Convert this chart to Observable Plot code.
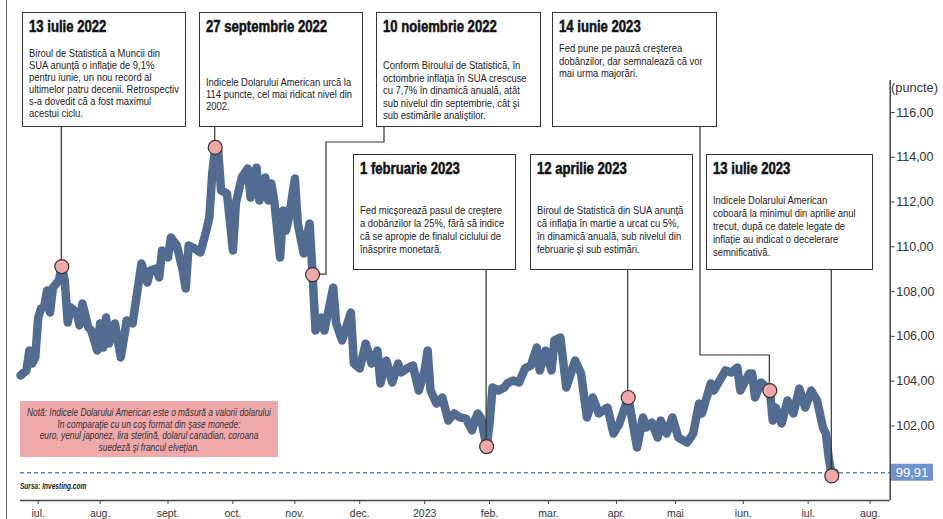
<!DOCTYPE html>
<html>
<head>
<meta charset="utf-8">
<script src="https://cdn.jsdelivr.net/npm/d3@7"></script>
<script src="https://cdn.jsdelivr.net/npm/@observablehq/plot@0.6"></script>
<style>
  body { margin: 0; background: #fff; }
  #wrap { position: relative; width: 943px; height: 519px; overflow: hidden;
          font-family: "Liberation Sans", Arial, sans-serif; }
  #wrap > svg { position: absolute; left: 0; top: 0; }
  .border { position: absolute; left: 6px; top: 0; height: 519px; border-left: 1.5px solid #666; }
  .box { position: absolute; background: #fff; border: 1.3px solid #333; box-sizing: border-box; }
  .box .t { position: absolute; left: 6px; font-weight: bold; font-size: 16px; line-height: 16px;
            color: #111; white-space: nowrap; -webkit-text-stroke: 0.5px #111;
            transform: scaleX(0.82); transform-origin: 0 0; }
  .box .b { position: absolute; left: 6px; font-size: 11.5px; color: #222; white-space: nowrap;
            transform: scaleX(0.82); transform-origin: 0 0; }
  .note { position: absolute; left: 20px; top: 401px; width: 258px; height: 56px; background: #f0a9ab; }
  .note .in { position: absolute; left: 50%; width: 330px; margin-left: -165px; top: 6px;
              text-align: center; font-style: italic; font-size: 10.2px; line-height: 11.5px; color: #333;
              transform: scaleX(0.82); transform-origin: 50% 0; white-space: nowrap; }
  .src { position: absolute; left: 20px; top: 482px; font-size: 8.2px; font-weight: bold; font-style: italic;
         color: #222; transform: scaleX(0.8); transform-origin: 0 0; white-space: nowrap; }
  .unit { position: absolute; left: 891px; top: 80px; font-size: 12.8px; color: #333; }
</style>
</head>
<body>
<div id="wrap"></div>
<script>
// ---------- data ----------
const dates = [
  "2022-06-23","2022-06-27","2022-06-28","2022-06-29","2022-06-30",
  "2022-07-01","2022-07-04","2022-07-05","2022-07-06","2022-07-07","2022-07-08","2022-07-12","2022-07-13",
  "2022-07-14","2022-07-15","2022-07-18","2022-07-20","2022-07-21","2022-07-22","2022-07-26","2022-07-27","2022-07-29",
  "2022-08-01","2022-08-02","2022-08-03","2022-08-04","2022-08-08","2022-08-10","2022-08-12","2022-08-16",
  "2022-08-19","2022-08-23","2022-08-24","2022-08-26","2022-08-29","2022-08-30",
  "2022-09-01","2022-09-02","2022-09-06","2022-09-08","2022-09-09","2022-09-12","2022-09-14","2022-09-16",
  "2022-09-20","2022-09-21","2022-09-22","2022-09-23","2022-09-26","2022-09-27","2022-09-29",
  "2022-10-03","2022-10-04","2022-10-06","2022-10-10","2022-10-11","2022-10-13","2022-10-14","2022-10-18",
  "2022-10-19","2022-10-20","2022-10-21","2022-10-25","2022-10-26","2022-10-27","2022-10-28",
  "2022-11-01","2022-11-02","2022-11-04","2022-11-08","2022-11-09","2022-11-10","2022-11-14","2022-11-15",
  "2022-11-18","2022-11-21","2022-11-23","2022-11-28","2022-11-29",
  "2022-12-01","2022-12-05","2022-12-07","2022-12-09","2022-12-12","2022-12-14","2022-12-16","2022-12-20",
  "2022-12-21","2022-12-23","2022-12-27","2022-12-29",
  "2023-01-02","2023-01-03","2023-01-04","2023-01-06","2023-01-10","2023-01-12","2023-01-16","2023-01-18",
  "2023-01-20","2023-01-24","2023-01-25","2023-01-26","2023-01-27","2023-01-31",
  "2023-02-01","2023-02-02","2023-02-06","2023-02-08","2023-02-09","2023-02-13","2023-02-15","2023-02-17",
  "2023-02-21","2023-02-23","2023-02-24","2023-02-28",
  "2023-03-02","2023-03-03","2023-03-07","2023-03-09","2023-03-14","2023-03-16","2023-03-20","2023-03-22",
  "2023-03-24","2023-03-29","2023-03-31",
  "2023-04-04","2023-04-07","2023-04-12","2023-04-14","2023-04-17","2023-04-19","2023-04-21","2023-04-24",
  "2023-04-26","2023-04-28",
  "2023-05-02","2023-05-05","2023-05-09","2023-05-11","2023-05-12","2023-05-17","2023-05-18","2023-05-24",
  "2023-05-26","2023-05-30","2023-05-31",
  "2023-06-05","2023-06-06","2023-06-07","2023-06-09","2023-06-14","2023-06-15","2023-06-16","2023-06-20",
  "2023-06-22","2023-06-26","2023-06-28","2023-06-30",
  "2023-07-04","2023-07-06","2023-07-10","2023-07-11","2023-07-12","2023-07-13","2023-07-14"
];
const values = [
  104.25,104.48,105.37,104.79,105.06,
  106.84,107.25,107.29,108.05,107.07,108.18,108.50,109.12,
  108.50,106.62,107.29,107.07,106.49,107.47,106.40,106.26,105.37,
  106.58,105.50,106.84,105.68,106.58,105.06,106.71,106.58,
  109.26,108.41,108.94,109.03,108.63,109.84,
  109.52,110.42,110.06,108.94,108.14,110.06,109.93,109.75,
  110.73,111.31,113.28,114.44,114.30,112.52,112.38,
  109.84,111.94,113.10,113.50,112.20,113.54,112.07,113.10,
  112.07,112.83,112.07,109.52,111.62,110.73,111.31,
  113.05,111.04,109.70,111.04,108.76,106.26,106.84,106.26,
  108.18,106.58,105.82,107.07,104.79,
  104.57,105.68,104.79,105.37,103.90,104.92,103.94,104.79,
  104.39,104.57,104.70,103.58,
  104.48,105.37,103.58,103.00,103.27,102.24,102.56,102.38,
  102.33,101.80,102.24,102.56,102.38,101.08,
  102.11,103.72,103.58,103.72,103.90,104.03,103.94,104.57,
  104.70,105.50,104.48,105.37,
  104.48,105.82,105.95,103.72,104.92,104.34,102.38,103.27,
  102.56,102.82,101.66,
  102.11,103.27,101.04,102.38,101.93,102.15,101.48,102.24,
  101.66,102.38,
  101.48,101.26,101.66,103.00,102.56,103.90,103.58,104.48,
  104.39,104.61,103.58,
  104.34,104.34,103.27,103.94,103.58,102.24,102.82,102.11,
  103.14,102.56,103.67,102.82,
  103.58,103.14,101.93,101.66,100.55,99.77,99.91
];

const eventDates  = ["2022-07-13","2022-09-23","2022-11-09","2023-06-14","2023-01-31","2023-04-07","2023-07-13"];
const eventTitles = ["13 iulie 2022","27 septembrie 2022","10 noiembrie 2022","14 iunie 2023",
                     "1 februarie 2023","12 aprilie 2023","13 iulie 2023"];
const eventTexts = [
  ["Biroul de Statistică a Muncii din","SUA anunță o inflație de 9,1%","pentru iunie, un nou record al",
   "ultimelor patru decenii. Retrospectiv","s-a dovedit că a fost maximul","acestui ciclu."],
  ["Indicele Dolarului American urcă la","114 puncte, cel mai ridicat nivel din","2002."],
  ["Conform Biroului de Statistică, în","octombrie inflația în SUA crescuse","cu 7,7% în dinamică anuală, atât",
   "sub nivelul din septembrie, cât şi","sub estimările analiştilor."],
  ["Fed pune pe pauză creşterea","dobânzilor, dar semnalează că vor","mai urma majorări."],
  ["Fed micşorează pasul de creştere","a dobânzilor la 25%, fără să indice","că se apropie de finalul ciclului de",
   "înăsprire monetară."],
  ["Biroul de Statistică din SUA anunță","că inflația în martie a urcat cu 5%,","în dinamică anuală, sub nivelul din",
   "februarie şi sub estimări."],
  ["Indicele Dolarului American","coboară la minimul din aprilie anul","trecut, după ce datele legate de",
   "inflație au indicat o decelerare","semnificativă."]
];

const xTickDates  = ["2022-07-01","2022-08-01","2022-09-01","2022-10-01","2022-11-01","2022-12-01","2023-01-01",
                     "2023-02-01","2023-03-01","2023-04-01","2023-05-01","2023-06-01","2023-07-01","2023-08-01"];
const xTickLabels = ["iul.","aug.","sept.","oct.","nov.","dec.","2023","feb.","mar.","apr.","mai","iun.","iul.","aug."];
const yTicks = [102,104,106,108,110,112,114,116];
const unitLabel = "(puncte)";
const noteLines = ["Notă: Indicele Dolarului American este o măsură a valorii dolarului",
                   "în comparaţie cu un coş format din şase monede:",
                   "euro, yenul japonez, lira sterlină, dolarul canadian, coroana",
                   "suedeză şi francul elveţian."];
const sourceText = "Sursa: Investing.com";

// ---------- layout ----------
const xDomain = [-6, 288.8];
const yDomain = [98.67, 117.43];
const boxLayout = [
  {left: 22,  top: 12,  w: 164, h: 115, tTop: 6, bTop: 34, lh: 12},
  {left: 199, top: 12,  w: 164, h: 115, tTop: 6, bTop: 63, lh: 12},
  {left: 376, top: 12,  w: 165, h: 115, tTop: 6, bTop: 46, lh: 12.5},
  {left: 552, top: 12,  w: 165, h: 115, tTop: 6, bTop: 29, lh: 12.5},
  {left: 353, top: 154, w: 163, h: 116, tTop: 6, bTop: 49, lh: 13},
  {left: 530, top: 154, w: 163, h: 116, tTop: 6, bTop: 49, lh: 13},
  {left: 706, top: 154, w: 167, h: 116, tTop: 6, bTop: 39, lh: 13}
];
const connectors = [
  (mx, my) => [[mx, 127], [mx, my]],
  (mx, my) => [[mx, 127], [mx, my]],
  (mx, my) => [[384, 127], [384, 142], [326, 142], [326, my], [mx, my]],
  (mx, my) => [[700, 127], [700, 355], [mx, 355], [mx, my]],
  (mx, my) => [[mx, 270], [mx, my]],
  (mx, my) => [[mx, 270], [mx, my]],
  (mx, my) => [[mx, 270], [mx, my]]
];

// trading-day (weekday) index, 0 = 1 July 2022
const wd = s => {
  const t = Date.UTC(+s.slice(0, 4), +s.slice(5, 7) - 1, +s.slice(8, 10));
  const days = Math.round((t - Date.UTC(2022, 5, 27)) / 864e5);
  const w = Math.floor(days / 7);
  return w * 5 + Math.min(days - 7 * w, 5) - 4;
};

const series = dates.map((d, k) => ({i: wd(d), v: values[k]}));
const events = eventDates.map((d, k) => ({i: wd(d), v: values[dates.indexOf(d)], k}));
const xTicks = xTickDates.map(wd);
const tickLabel = new Map(xTicks.map((t, k) => [t, xTickLabels[k]]));
const lastV = values[values.length - 1];
const fmt = v => v.toFixed(2).replace(".", ",");

const chart = Plot.plot({
  width: 943, height: 519,
  marginLeft: 20, marginRight: 53.3, marginTop: 80, marginBottom: 19,
  style: {fontFamily: "'Liberation Sans', Arial, sans-serif", background: "transparent", overflow: "visible"},
  x: {type: "linear", domain: xDomain},
  y: {type: "linear", domain: yDomain},
  marks: [
    Plot.ruleY([lastV], {stroke: "#5a82d2", strokeWidth: 1.3, strokeDasharray: "4,3"}),
    Plot.line(series, {x: "i", y: "v", stroke: "#526b90", strokeWidth: 8.5,
                       strokeLinejoin: "round", strokeLinecap: "round"}),
    Plot.ruleY([yDomain[0]], {stroke: "#444", strokeWidth: 1.5}),
    Plot.ruleX([xDomain[1]], {stroke: "#444", strokeWidth: 1.5}),
    Plot.axisX(xTicks, {tickFormat: t => tickLabel.get(t), tickSize: 4, tickPadding: 5,
                        fontSize: 10.5, stroke: "#444", fill: "#333", label: null}),
    Plot.axisY(yTicks, {anchor: "right", tickFormat: fmt, tickSize: 4, tickPadding: 2,
                        fontSize: 12.5, stroke: "#444", fill: "#333", label: null}),
    Plot.dot(events, {x: "i", y: "v", r: 7, fill: "#f2a7a8", stroke: "#333", strokeWidth: 1.2})
  ]
});

const wrap = document.getElementById("wrap");
wrap.appendChild(chart);

const sx = chart.scale("x"), sy = chart.scale("y");
const svg = d3.select(chart);

// connectors (below markers)
const cg = svg.insert("g", "g[aria-label=dot]").attr("fill", "none").attr("stroke", "#333").attr("stroke-width", 1.2);
events.forEach(e => {
  const mx = sx.apply(e.i), my = sy.apply(e.v);
  cg.append("path").attr("d", d3.line()(connectors[e.k](mx, my)));
});

// last value label
const yl = sy.apply(lastV);
svg.append("rect").attr("x", 891).attr("y", yl - 8.5).attr("width", 42).attr("height", 17).attr("fill", "#7092d0");
svg.append("text").attr("x", 912).attr("y", yl).attr("dy", "0.36em").attr("text-anchor", "middle")
   .attr("fill", "#fff").attr("font-size", 13).text(fmt(lastV));

// html overlays
const add = (cls, html, css, parent) => {
  const d = document.createElement("div");
  d.className = cls; if (html != null) d.innerHTML = html;
  Object.assign(d.style, css || {});
  (parent || wrap).appendChild(d); return d;
};
add("border");
events.forEach(e => {
  const L = boxLayout[e.k];
  const b = add("box", null, {left: L.left + "px", top: L.top + "px", width: L.w + "px", height: L.h + "px"});
  const t = add("t", null, {top: L.tTop + "px"}, b);
  t.textContent = eventTitles[e.k];
  add("b", eventTexts[e.k].join("<br>"), {top: L.bTop + "px", lineHeight: L.lh + "px"}, b);
});
const note = add("note");
add("in", noteLines.join("<br>"), null, note);
add("src", sourceText);
add("unit", unitLabel);
</script>
</body>
</html>
